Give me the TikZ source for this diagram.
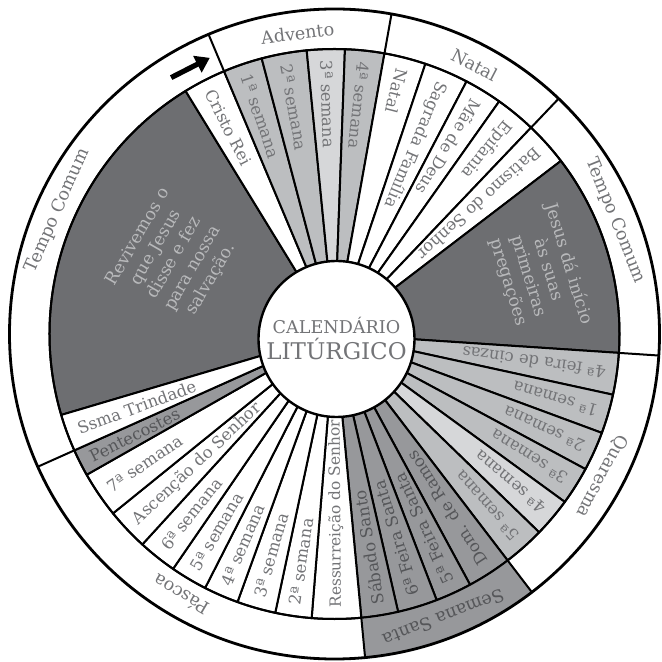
\documentclass[tikz,border=0pt]{standalone}
\usepackage{fontspec}
\setmainfont{DejaVu Serif}
\usepackage{tikz}
\usetikzlibrary{arrows.meta,positioning}
\definecolor{darkwedge}{HTML}{6D6E71}
\definecolor{weekgray}{HTML}{BCBEC0}
\definecolor{palegray}{HTML}{D6D7D9}
\definecolor{holygray}{HTML}{97989B}
\definecolor{inkgray}{HTML}{737477}
\definecolor{holyink}{HTML}{555659}
\definecolor{softink}{HTML}{B8B9BB}
\tikzset{
    rim/.style={line width=1pt, black},
    outerrim/.style={line width=1.4pt, black},
    wedge/.style={draw=black, line width=1pt, line join=round},
    wedgetext/.style={anchor=west, inner sep=0pt, text=inkgray, font=\fontsize{8.2}{9.6}\selectfont},
    seasontext/.style={inner sep=0pt, text=inkgray, font=\fontsize{8.8}{10}\selectfont},
    darktext/.style={align=center, inner sep=0pt, text=softink, font=\fontsize{8.6}{10.5}\selectfont},
    hub/.style={draw, circle, line width=1.2pt, fill=white, minimum size=78pt, inner sep=0pt, align=center, text=inkgray},
    turnarrow/.style={-{Triangle[length=7pt, width=9pt]}, line width=2.6pt, black}
}
% one slice of the wheel: [text colour] start angle, end angle, fill, name, label
\newcommand{\wedgepart}[6][inkgray]{%
    \filldraw[wedge, fill=#4] (0,0) -- (#2:285) arc[start angle=#2, end angle=#3, radius=285] -- cycle;
    \node[wedgetext, text=#1, rotate={(#2+#3)/2-180}] (#5) at ({(#2+#3)/2}:274) {#6};
}

\begin{document}
\begin{tikzpicture}[x=0.5pt, y=0.5pt]
    \useasboundingbox (-334.5,-328) rectangle (326.5,334);

    \wedgepart{121.5}{196.5}{darkwedge}{revwedge}{}
    \wedgepart{112.8}{121.5}{white}{cristo}{Cristo Rei}
    \wedgepart{104.8}{112.8}{weekgray}{adv1}{1ª semana}
    \wedgepart{95.6}{104.8}{weekgray}{adv2}{2ª semana}
    \wedgepart{87.9}{95.6}{palegray}{adv3}{3ª semana}
    \wedgepart{79.9}{87.9}{weekgray}{adv4}{4ª semana}
    \wedgepart{71.4}{79.9}{white}{natal}{Natal}
    \wedgepart{62.4}{71.4}{white}{sagrada}{Sagrada Família}
    \wedgepart{54.7}{62.4}{white}{maedeus}{Mãe de Deus}
    \wedgepart{46.4}{54.7}{white}{epifania}{Epifania}
    \wedgepart{37.4}{46.4}{white}{batismo}{Batismo do Senhor}
    \wedgepart{-3.8}{37.4}{darkwedge}{jesuswedge}{}
    \wedgepart{-12.3}{-3.8}{weekgray}{cinzas}{4ª feira de cinzas}
    \wedgepart{-20.3}{-12.3}{weekgray}{qua1}{1ª semana}
    \wedgepart{-28.3}{-20.3}{weekgray}{qua2}{2ª semana}
    \wedgepart{-36.1}{-28.3}{weekgray}{qua3}{3ª semana}
    \wedgepart{-44.1}{-36.1}{palegray}{qua4}{4ª semana}
    \wedgepart{-52.6}{-44.1}{weekgray}{qua5}{5ª semana}
    \wedgepart[holyink]{-61.6}{-52.6}{holygray}{ramos}{Dom. de Ramos}
    \wedgepart[holyink]{-69}{-61.6}{holygray}{quinta}{5ª Feira Santa}
    \wedgepart[holyink]{-77.1}{-69}{holygray}{sexta}{6ª Feira Santa}
    \wedgepart[holyink]{-84.6}{-77.1}{holygray}{sabado}{Sábado Santo}
    \wedgepart{-94.6}{-84.6}{white}{ressurreicao}{\fontsize{7.7}{9}\selectfont Ressurreição do Senhor}
    \wedgepart{-102}{-94.6}{white}{pas2}{2ª semana}
    \wedgepart{-109.9}{-102}{white}{pas3}{3ª semana}
    \wedgepart{-117}{-109.9}{white}{pas4}{4ª semana}
    \wedgepart{-124.5}{-117}{white}{pas5}{5ª semana}
    \wedgepart{-132.4}{-124.5}{white}{pas6}{6ª semana}
    \wedgepart{-141}{-132.4}{white}{ascensao}{Ascenção do Senhor}
    \wedgepart{-150.4}{-141}{white}{pas7}{7ª semana}
    \wedgepart[holyink]{-155.9}{-150.4}{holygray}{pentecostes}{Pentecostes}
    \wedgepart{-163.5}{-155.9}{white}{trindade}{Ssma Trindade}

    % outer ring of seasons
    \fill[holygray] (-84.6:285) arc[start angle=-84.6, end angle=-52.6, radius=285]
        -- (-52.6:325) arc[start angle=-52.6, end angle=-84.6, radius=325] -- cycle;
    \draw[rim] (0,0) circle[radius=285];
    \draw[outerrim] (0,0) circle[radius=325];
    \draw[rim] (112.8:285) -- (112.8:325) (79.9:285) -- (79.9:325)
        (46.4:285) -- (46.4:325) (-3.8:285) -- (-3.8:325)
        (-52.6:285) -- (-52.6:325) (-84.6:285) -- (-84.6:325)
        (204.1:285) -- (204.1:325);

    \node[seasontext, rotate=7] (advento) at (97:303) {Advento};
    \node[seasontext, rotate=-27.5] (natalseason) at (62.5:303) {Natal};
    \node[seasontext, rotate=-68] (comumright) at (22:303) {Tempo Comum};
    \node[seasontext, rotate=-118] (quaresma) at (-28:303) {Quaresma};
    \node[seasontext, text=holyink, rotate=-159] (semanasanta) at (-69:304) {Semana Santa};
    \node[seasontext, rotate=149.5] (pascoa) at (239.5:303) {Páscoa};
    \node[seasontext, rotate=66] (comumleft) at (156:303) {Tempo Comum};

    \coordinate (arrowtail) at (122.5:304);
    \coordinate (arrowtip) at (114.3:303);
    \draw[turnarrow] (arrowtail) -- (arrowtip);

    \node[darktext, rotate=60] (revtext) at (-160,76) {Revivemos o\\que Jesus\\disse e fez\\para nossa\\salvação.};
    \node[darktext, rotate=-73] (jesustext) at (204,61) {Jesus dá início\\às suas\\primeiras\\pregações};

    \node[hub] (hub) at (2,-5) {{\fontsize{8.8}{10}\selectfont CALENDÁRIO}\\[1pt]{\fontsize{11.5}{13}\selectfont LITÚRGICO}};
\end{tikzpicture}
\end{document}
